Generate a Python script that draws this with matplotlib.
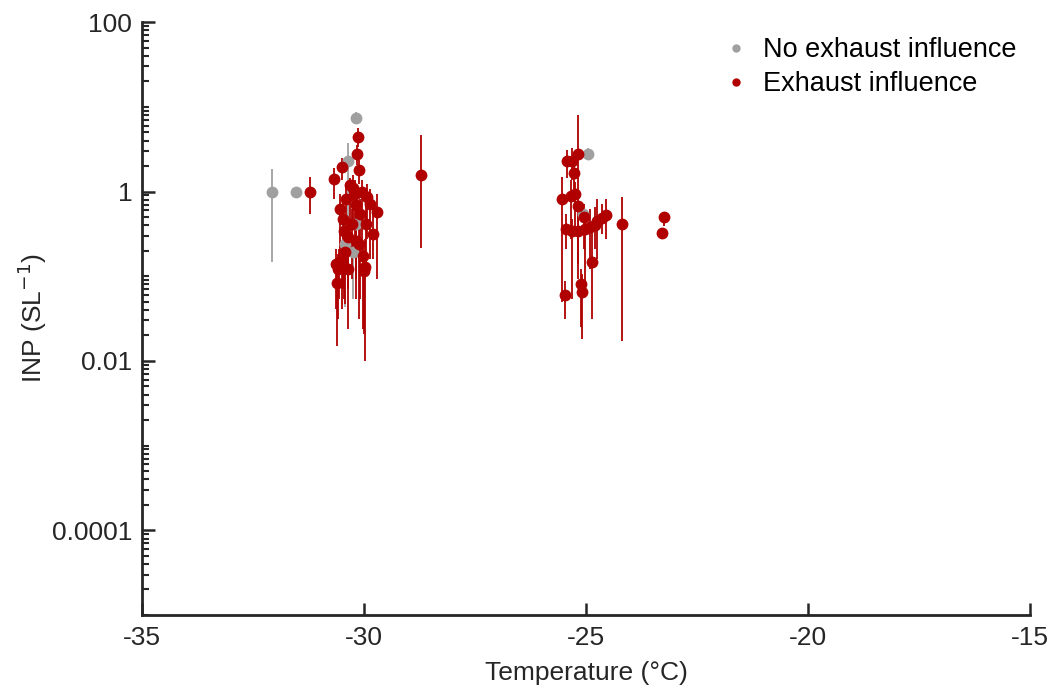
import numpy as np
import matplotlib
matplotlib.use("Agg")
import matplotlib.pyplot as plt
from matplotlib.lines import Line2D
from matplotlib.ticker import FixedLocator, NullFormatter

plt.rcParams['font.family'] = ['Liberation Sans', 'DejaVu Sans']

# === данные: без влияния выхлопа ===
t_clean = [-32.07, -31.53, -30.18, -30.36, -30.43, -30.25, -30.18, -24.95, -25.07]
inp_clean = [1.0, 1.0, 7.42, 2.31, 0.238, 0.191, 0.409, 2.80, 0.536]
lo_clean = [0.146, 1.0, 6.31, 0.208, 0.0432, 0.0536, 0.208, 2.38, 0.47]
hi_clean = [1.82, 1.0, 8.73, 3.77, 0.357, 0.272, 0.536, 3.29, 0.61]

# === данные: с влиянием выхлопа ===
t_exh = [-31.22, -30.68, -30.50, -30.14, -30.16, -30.11, -28.72, -29.71, -29.80, -30.61,
         -29.98, -30.47, -30.50, -30.18, -30.36, -29.93, -30.25, -30.56, -30.02, -30.43,
         -30.32, -30.05, -30.41, -29.86, -30.18, -30.54, -30.09, -30.27, -29.95, -30.45,
         -30.59, -30.11, -30.36, -30.00, -30.20, -30.63,
         -25.18, -25.43, -25.32, -25.27, -25.54, -25.34, -25.25, -25.18, -25.05, -24.64,
         -24.75, -24.19, -23.24, -23.29, -25.32, -25.18, -25.02, -24.91, -24.80, -24.86,
         -25.11, -25.09, -25.47, -24.55, -25.45]
inp_exh = [1.0, 1.42, 1.97, 4.44, 2.80, 1.81, 1.58, 0.566, 0.312, 0.0827,
           0.128, 0.469, 0.146, 0.258, 0.288, 0.85, 1.11, 0.146, 0.172, 0.191,
           1.18, 1.0, 0.805, 0.703, 0.685, 0.614, 0.536, 0.409, 0.409, 0.338,
           0.121, 0.238, 0.121, 0.115, 0.922, 0.138,
           2.80, 2.31, 2.31, 1.67, 0.805, 0.897, 0.947, 0.666, 0.494, 0.481,
           0.444, 0.409, 0.494, 0.321, 0.338, 0.338, 0.357, 0.377, 0.398, 0.146,
           0.0805, 0.0649, 0.0598, 0.522, 0.357]
lo_exh = [0.536, 0.805, 1.38, 3.38, 2.08, 1.21, 0.213, 0.092, 0.158, 0.015,
          0.01, 0.0703, 0.041, 0.0536, 0.0703, 0.272, 0.357, 0.0536, 0.0238, 0.0469,
          0.208, 0.158, 0.158, 0.158, 0.092, 0.121, 0.0536, 0.092, 0.121, 0.0536,
          0.0312, 0.0312, 0.0238, 0.0208, 0.272, 0.041,
          0.805, 1.46, 1.38, 1.06, 0.0494, 0.272, 0.357, 0.138, 0.208, 0.312,
          0.158, 0.0173, 0.387, 0.321, 0.0536, 0.092, 0.0703, 0.121, 0.208, 0.0312,
          0.0251, 0.0182, 0.0312, 0.272, 0.208]
hi_exh = [1.50, 1.92, 2.51, 5.66, 3.57, 2.38, 4.69, 0.922, 0.536, 0.106,
          0.272, 0.805, 0.238, 0.409, 0.469, 1.21, 1.58, 0.208, 0.238, 0.312,
          1.46, 1.38, 1.21, 1.06, 1.06, 0.922, 0.805, 0.614, 0.703, 0.536,
          0.182, 0.357, 0.208, 0.182, 1.38, 0.208,
          8.05, 3.12, 3.29, 2.08, 1.50, 1.38, 1.31, 0.922, 0.703, 0.703,
          0.805, 0.85, 0.566, 0.321, 0.469, 0.536, 0.536, 0.614, 0.648, 0.357,
          0.121, 0.106, 0.0873, 0.805, 0.536]

grey = "#a0a0a0"
red = "#b00000"

fig = plt.figure(figsize=(10.53, 6.91), dpi=100)
ax = fig.add_axes([0.1349, 0.11, 0.8432, 0.858])


def draw(t, y, lo, hi, color):
    y = np.array(y)
    err = [y - np.array(lo), np.array(hi) - y]
    ax.errorbar(t, y, yerr=err, fmt="o", color=color, ecolor=color,
                elinewidth=1.3, capsize=0, markersize=8.5, markeredgewidth=0)


draw(t_clean, inp_clean, lo_clean, hi_clean, grey)
draw(t_exh, inp_exh, lo_exh, hi_exh, red)

ax.set_yscale("log")
ax.set_xlim(-35, -15)
ax.set_ylim(1e-5, 100)

ax.set_xticks([-35, -30, -25, -20, -15])
ax.set_xticklabels(["-35", "-30", "-25", "-20", "-15"])

ax.yaxis.set_major_locator(FixedLocator([1e-4, 1e-2, 1, 100]))
ax.set_yticklabels(["0.0001", "0.01", "1", "100"])
minors = []
for e in range(-5, 2):
    for m in range(1, 10):
        v = m * 10.0 ** e
        if v not in (1e-4, 1e-2, 1.0):
            minors.append(v)
ax.yaxis.set_minor_locator(FixedLocator(minors))
ax.yaxis.set_minor_formatter(NullFormatter())

for s in ["top", "right"]:
    ax.spines[s].set_visible(False)
for s in ["left", "bottom"]:
    ax.spines[s].set_linewidth(2)
    ax.spines[s].set_color("#262626")

ax.tick_params(axis="both", which="major", direction="in", length=9, width=1.8,
               colors="#262626", labelsize=19, labelcolor="#262626")
ax.tick_params(axis="y", which="minor", direction="in", length=5, width=1.5,
               colors="#262626")
ax.tick_params(axis="x", which="major", pad=8)
ax.tick_params(axis="y", which="major", pad=7)

ax.set_xlabel("Temperature (°C)", fontsize=19, color="#262626", labelpad=8)
ax.set_ylabel("INP (SL$^{-1}$)", fontsize=19, color="#262626", labelpad=2)

handles = [Line2D([], [], marker="o", linestyle="none", color=grey, markersize=6,
                  markeredgewidth=0),
           Line2D([], [], marker="o", linestyle="none", color=red, markersize=6,
                  markeredgewidth=0)]
ax.legend(handles, ["No exhaust influence", "Exhaust influence"], loc="upper right",
          bbox_to_anchor=(1.012, 1.016), frameon=False, fontsize=19.5,
          handlelength=0.8, handletextpad=0.6, labelspacing=0.3)

fig.savefig("out.png", dpi=100)
